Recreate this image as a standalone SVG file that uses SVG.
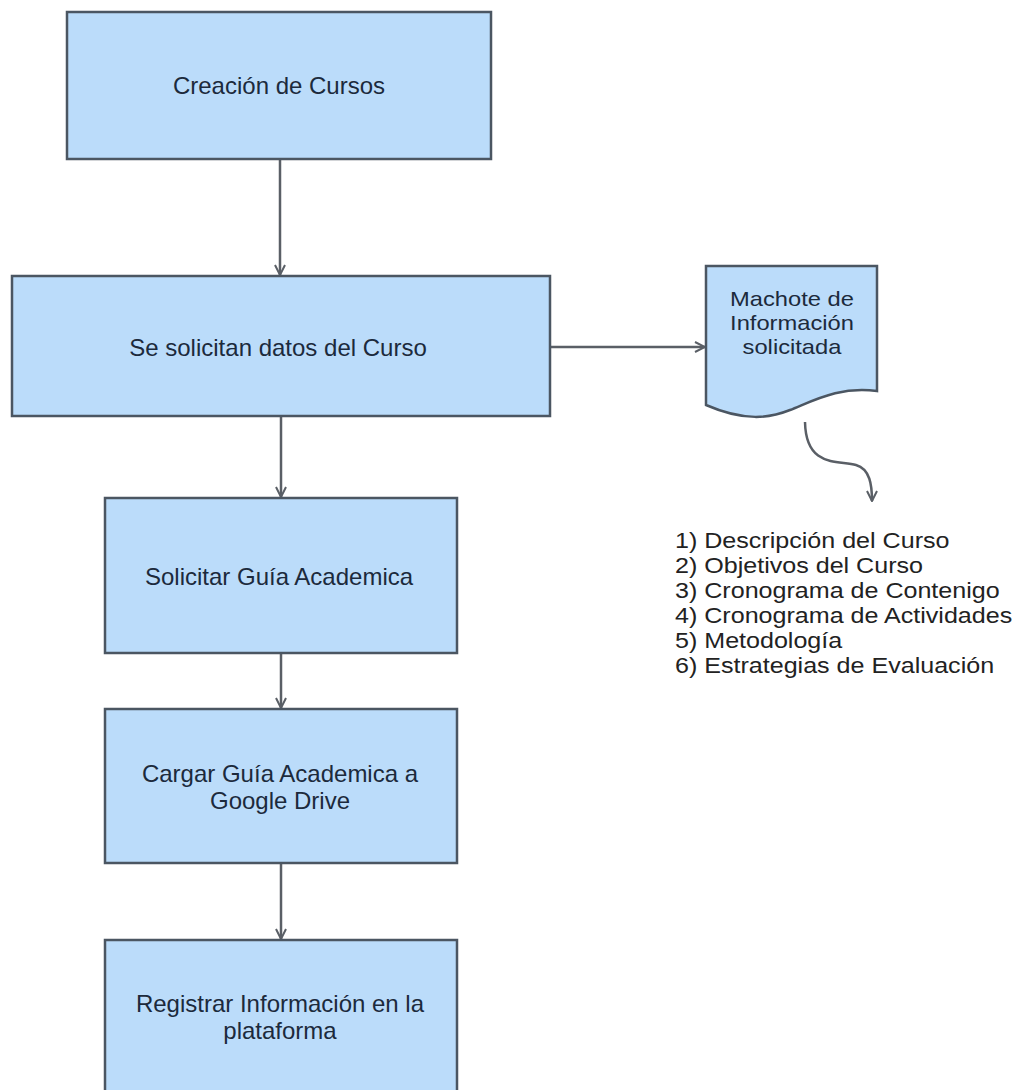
<svg xmlns="http://www.w3.org/2000/svg" width="1020" height="1090" viewBox="0 0 1020 1090">
  <style>
    .box { fill: #bbdcfa; stroke: #4b5662; stroke-width: 2.5; }
    .lbl { font-family: "Liberation Sans", Arial, sans-serif; font-size: 24px; fill: #1c2a3c; text-anchor: middle; }
    .doc { font-family: "Liberation Sans", Arial, sans-serif; font-size: 21px; fill: #1c2a3c; text-anchor: middle; }
    .list { font-family: "Liberation Sans", Arial, sans-serif; font-size: 22px; fill: #222222; }
    .edge { fill: none; stroke: #5a5f66; stroke-width: 2.5; }
  </style>
  <defs>
    <marker id="arrow" viewBox="0 0 12 12" refX="11" refY="6" markerWidth="12" markerHeight="12" markerUnits="userSpaceOnUse" orient="auto">
      <path d="M1,1 L11,6 L1,11" fill="none" stroke="#5a5f66" stroke-width="2"/>
    </marker>
  </defs>
  <rect width="1020" height="1090" fill="#ffffff"/>

  <g id="connectors">
    <line class="edge" x1="280" y1="159" x2="280" y2="275" marker-end="url(#arrow)"/>
    <line class="edge" x1="550" y1="347" x2="705" y2="347" marker-end="url(#arrow)"/>
    <line class="edge" x1="281" y1="416" x2="281" y2="497" marker-end="url(#arrow)"/>
    <line class="edge" x1="281" y1="653" x2="281" y2="708" marker-end="url(#arrow)"/>
    <line class="edge" x1="281" y1="863" x2="281" y2="939" marker-end="url(#arrow)"/>
    <path class="edge" d="M805,422 C806,468 838,460 856,465 C870,469 872,485 872,501" marker-end="url(#arrow)"/>
  </g>

  <g id="node-creacion">
    <rect class="box" x="67" y="12" width="424" height="147"/>
    <text class="lbl" x="279" y="94">Creación de Cursos</text>
  </g>

  <g id="node-solicitan">
    <rect class="box" x="12" y="276" width="538" height="140"/>
    <text class="lbl" x="278" y="356">Se solicitan datos del Curso</text>
  </g>

  <g id="node-machote">
    <path class="box" d="M706,266 L877,266 L877,391 C840,386 815,400 790,410 C770,418 745,422 706,405 Z"/>
    <g transform="translate(792,0) scale(1.13,1)">
      <text class="doc" x="0" y="306">Machote de</text>
      <text class="doc" x="0" y="330">Información</text>
      <text class="doc" x="0" y="354">solicitada</text>
    </g>
  </g>

  <g id="node-guia">
    <rect class="box" x="105" y="498" width="352" height="155"/>
    <text class="lbl" x="279" y="585">Solicitar Guía Academica</text>
  </g>

  <g id="node-cargar">
    <rect class="box" x="105" y="709" width="352" height="154"/>
    <text class="lbl" x="280" y="782">Cargar Guía Academica a</text>
    <text class="lbl" x="280" y="809">Google Drive</text>
  </g>

  <g id="node-registrar">
    <rect class="box" x="105" y="940" width="352" height="170"/>
    <text class="lbl" x="280" y="1012">Registrar Información en la</text>
    <text class="lbl" x="280" y="1039">plataforma</text>
  </g>

  <g id="list" transform="translate(675,0) scale(1.14,1)">
    <text class="list" x="0" y="548">1) Descripción del Curso</text>
    <text class="list" x="0" y="573">2) Objetivos del Curso</text>
    <text class="list" x="0" y="598">3) Cronograma de Contenigo</text>
    <text class="list" x="0" y="623">4) Cronograma de Actividades</text>
    <text class="list" x="0" y="648">5) Metodología</text>
    <text class="list" x="0" y="673">6) Estrategias de Evaluación</text>
  </g>
</svg>
